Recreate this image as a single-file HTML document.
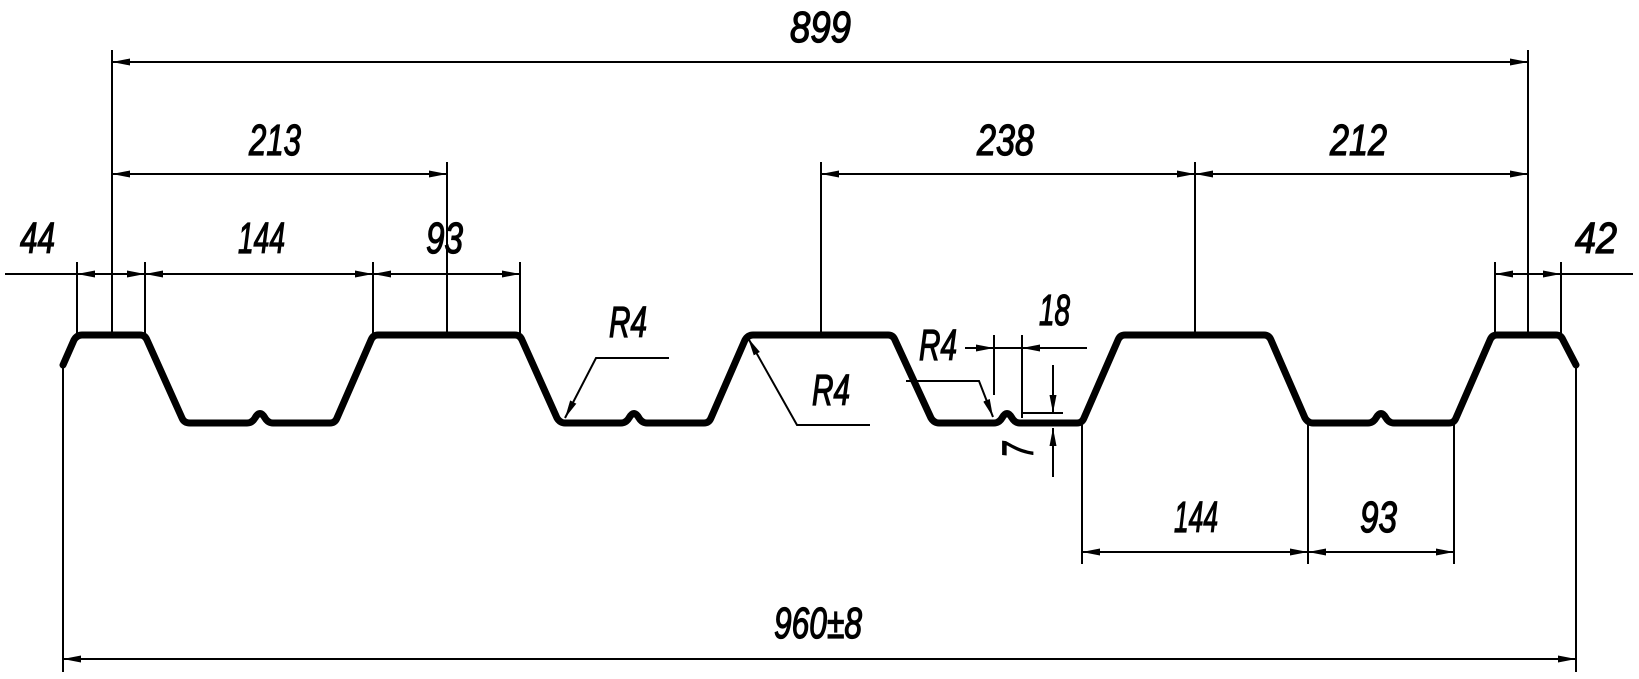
<!DOCTYPE html>
<html><head><meta charset="utf-8"><style>
html,body{margin:0;padding:0;background:#fff;}
svg{display:block}
text{font-family:"Liberation Sans Narrow","Liberation Sans",sans-serif;font-style:italic;font-size:44px;fill:#000;stroke:#000;stroke-width:1.3px}
</style></head><body>
<svg width="1639" height="679" viewBox="0 0 1639 679" xmlns="http://www.w3.org/2000/svg">
<defs>
<marker id="a" viewBox="0 0 18 7" refX="18" refY="3.5" markerWidth="18" markerHeight="7" markerUnits="userSpaceOnUse" orient="auto-start-reverse">
<path d="M0,0 L18,3.5 L0,7 z" fill="#000"/></marker>
</defs>
<path fill="none" stroke="#000" stroke-width="7" stroke-linejoin="round" stroke-linecap="round"
d="M63,365 L74,340 Q77,335 82,335 L140,335 Q145,335 147,340 L182,418 Q184,423 190,423 L247,423 Q252,423 255,418 Q260,409 265,418 Q268,423 273,423 L330,423 Q335,423 337,418 L371,340 Q373,335 378,335 L515,335 Q520,335 522,340 L557,418 Q560,423 565,423 L621,423 Q626,423 629,418 Q634,409 639,418 Q642,423 647,423 L704,423 Q709,423 711,418 L745,340 Q748,335 753,335 L888,335 Q893,335 895,340 L931,418 Q934,423 939,423 L994,423 Q999,423 1002,418 Q1007,409 1012,418 Q1015,423 1020,423 L1077,423 Q1082,423 1084,418 L1118,340 Q1120,335 1125,335 L1264,335 Q1269,335 1271,340 L1305,418 Q1308,423 1313,423 L1368,423 Q1373,423 1376,418 Q1381,409 1386,418 Q1389,423 1394,423 L1449,423 Q1454,423 1456,418 L1490,340 Q1492,335 1497,335 L1556,335 Q1561,335 1563,340 L1576,365"/>
<g stroke="#000" stroke-width="2" fill="none">
<line x1="112" y1="50" x2="112" y2="335"/>
<line x1="1528" y1="50" x2="1528" y2="335"/>
<line x1="447" y1="162" x2="447" y2="335"/>
<line x1="821" y1="162" x2="821" y2="335"/>
<line x1="1195" y1="162" x2="1195" y2="335"/>
<line x1="77" y1="262" x2="77" y2="335"/>
<line x1="145" y1="262" x2="145" y2="335"/>
<line x1="373" y1="262" x2="373" y2="335"/>
<line x1="520" y1="262" x2="520" y2="335"/>
<line x1="1495" y1="262" x2="1495" y2="335"/>
<line x1="1561" y1="262" x2="1561" y2="335"/>
<line x1="63" y1="365" x2="63" y2="672"/>
<line x1="1576" y1="365" x2="1576" y2="672"/>
<line x1="1082" y1="423" x2="1082" y2="564"/>
<line x1="1308" y1="423" x2="1308" y2="564"/>
<line x1="1454" y1="423" x2="1454" y2="564"/>
<line x1="994" y1="335" x2="994" y2="395"/>
<line x1="1022" y1="335" x2="1022" y2="418"/>
<line x1="1022" y1="413" x2="1063" y2="413"/>
<line x1="112" y1="62" x2="1528" y2="62" marker-start="url(#a)" marker-end="url(#a)"/>
<line x1="112" y1="174" x2="447" y2="174" marker-start="url(#a)" marker-end="url(#a)"/>
<line x1="821" y1="174" x2="1195" y2="174" marker-start="url(#a)" marker-end="url(#a)"/>
<line x1="1195" y1="174" x2="1528" y2="174" marker-start="url(#a)" marker-end="url(#a)"/>
<line x1="5" y1="274" x2="520" y2="274"/>
<line x1="112" y1="274" x2="77" y2="274" marker-end="url(#a)"/>
<line x1="112" y1="274" x2="145" y2="274" marker-end="url(#a)"/>
<line x1="145" y1="274" x2="373" y2="274" marker-start="url(#a)" marker-end="url(#a)"/>
<line x1="373" y1="274" x2="520" y2="274" marker-start="url(#a)" marker-end="url(#a)"/>
<line x1="1495" y1="274" x2="1633" y2="274"/>
<line x1="1528" y1="274" x2="1495" y2="274" marker-end="url(#a)"/>
<line x1="1528" y1="274" x2="1561" y2="274" marker-end="url(#a)"/>
<line x1="1082" y1="552" x2="1308" y2="552" marker-start="url(#a)" marker-end="url(#a)"/>
<line x1="1308" y1="552" x2="1454" y2="552" marker-start="url(#a)" marker-end="url(#a)"/>
<line x1="63" y1="659" x2="1576" y2="659" marker-start="url(#a)" marker-end="url(#a)"/>
<line x1="965" y1="348" x2="994" y2="348" marker-end="url(#a)"/>
<line x1="994" y1="348" x2="1022" y2="348"/>
<line x1="1087" y1="348" x2="1022" y2="348" marker-end="url(#a)"/>
<line x1="1053" y1="365" x2="1053" y2="413" marker-end="url(#a)"/>
<line x1="1053" y1="477" x2="1053" y2="428" marker-end="url(#a)"/>
<polyline points="669,358 596,358 565,418" marker-end="url(#a)"/>
<polyline points="870,425 797,425 748,338" marker-end="url(#a)"/>
<polyline points="906,381 979,381 993,417" marker-end="url(#a)"/>
</g>
<text x="790" y="42" textLength="61" lengthAdjust="spacingAndGlyphs">899</text>
<text x="249" y="155" textLength="52" lengthAdjust="spacingAndGlyphs">213</text>
<text x="977" y="155" textLength="57" lengthAdjust="spacingAndGlyphs">238</text>
<text x="1330" y="155" textLength="57" lengthAdjust="spacingAndGlyphs">212</text>
<text x="20" y="253" textLength="35" lengthAdjust="spacingAndGlyphs">44</text>
<text x="238" y="253" textLength="47" lengthAdjust="spacingAndGlyphs">144</text>
<text x="426" y="253" textLength="37" lengthAdjust="spacingAndGlyphs">93</text>
<text x="1575" y="253" textLength="42" lengthAdjust="spacingAndGlyphs">42</text>
<text x="1039" y="325" textLength="31" lengthAdjust="spacingAndGlyphs">18</text>
<text x="609" y="337" textLength="38" lengthAdjust="spacingAndGlyphs">R4</text>
<text x="812" y="405" textLength="38" lengthAdjust="spacingAndGlyphs">R4</text>
<text x="919" y="360" textLength="38" lengthAdjust="spacingAndGlyphs">R4</text>
<text x="1174" y="532" textLength="44" lengthAdjust="spacingAndGlyphs">144</text>
<text x="1360" y="532" textLength="37" lengthAdjust="spacingAndGlyphs">93</text>
<text x="774" y="638" textLength="88" lengthAdjust="spacingAndGlyphs">960±8</text>
<text x="0" y="0" transform="translate(1033,458) rotate(-90)" textLength="16" lengthAdjust="spacingAndGlyphs">7</text>
</svg>
</body></html>
